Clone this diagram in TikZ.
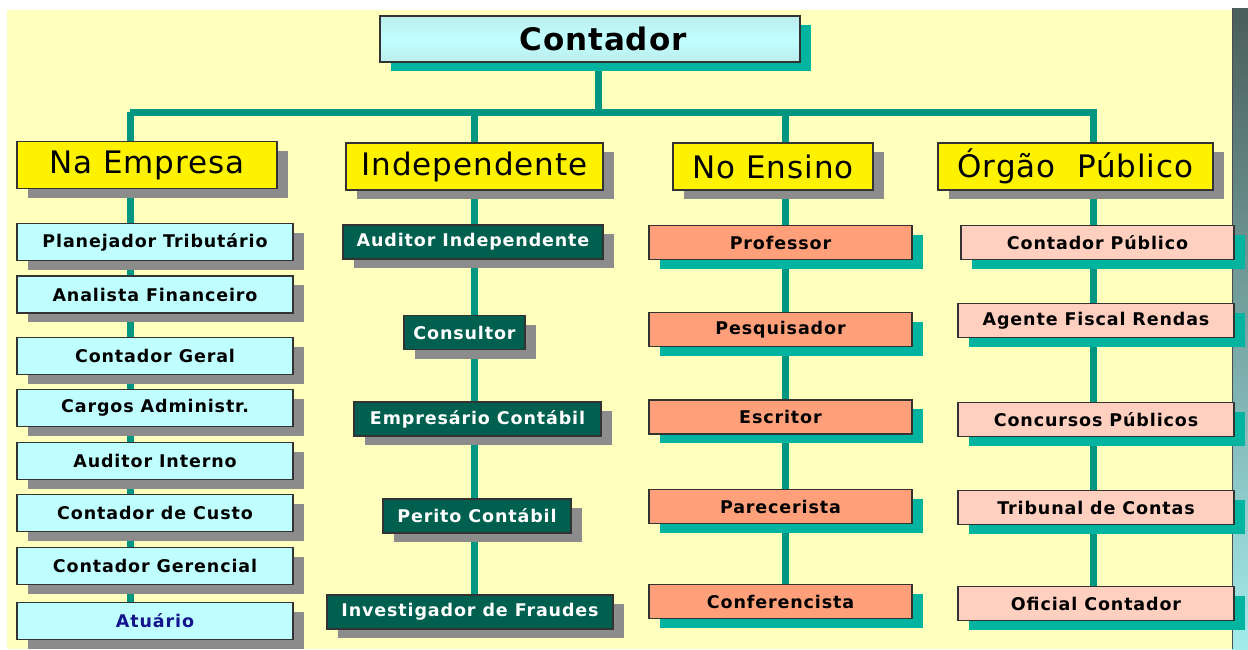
\documentclass[tikz,border=0pt]{standalone}
\usepackage{fontspec}
\setmainfont{DejaVu Sans}
\usetikzlibrary{shadows}
\definecolor{papel}{HTML}{FFFFBE}
\definecolor{linha}{HTML}{009682}
\definecolor{verde}{HTML}{00B4A0}
\definecolor{cinza}{HTML}{8C8C8C}
\definecolor{ciano}{HTML}{C0FFFF}
\definecolor{escuro}{HTML}{006050}
\definecolor{salmao}{HTML}{FFA07A}
\definecolor{rosa}{HTML}{FFD0C0}
\definecolor{azul}{HTML}{14148C}
\definecolor{faixa}{HTML}{4A5E5A}
\newfontfamily\caixafont[LetterSpace=5]{DejaVu Sans}
\newfontfamily\grupofont[LetterSpace=3]{DejaVu Sans}
\pgfdeclarelayer{fundo}
\pgfdeclarelayer{linhas}
\pgfsetlayers{fundo,linhas,main}
\tikzset{
  caixa/.style={draw=black!80, line width=1.2pt, inner sep=0pt, minimum height=34pt},
  sombra/.style={general shadow={fill=#1, shadow xshift=11pt, shadow yshift=-9pt}},
  topo/.style={caixa, sombra=verde, top color=ciano!75!teal!60, bottom color=ciano!75!teal!60, middle color=ciano,
    minimum width=420pt, minimum height=46pt, font=\grupofont\fontsize{31}{36}\selectfont\bfseries},
  grupo/.style={caixa, sombra=cinza, fill=yellow, minimum height=47pt, font=\grupofont\fontsize{31}{36}\selectfont},
  item/.style={caixa, font=\caixafont\fontsize{17.5}{20}\selectfont\bfseries},
  empresa/.style={item, sombra=cinza, fill=ciano, minimum width=276pt, minimum height=37pt},
  indep/.style={item, sombra=cinza, fill=escuro, text=white},
  ensino/.style={item, sombra=verde, fill=salmao, minimum width=263pt},
  publico/.style={item, sombra=verde, fill=rosa, minimum width=276pt},
  conn/.style={line width=7pt, color=linha}
}
\begin{document}
\begin{tikzpicture}[x=1pt,y=-1pt]
\useasboundingbox (0,0) rectangle (1248,649);
\begin{pgfonlayer}{fundo}
\fill[white] (0,0) rectangle (1248,649);
\fill[papel] (7,10) rectangle (1232,649);
\shade[top color=faixa, bottom color=ciano!85!teal] (1232,8) rectangle (1248,649);
\draw[black!70, line width=1pt] (1232,8) -- (1232,649);
\end{pgfonlayer}

\node[topo] (cont) at (590,39) {\hspace*{26pt}Contador};

\node[grupo, minimum width=260pt] (emp) at (147,165) {Na Empresa};
\node[grupo, minimum width=257pt] (ind) at (474.5,166.5) {Independente};
\node[grupo, minimum width=200pt] (ens) at (773,166.5) {No Ensino};
\node[grupo, minimum width=275pt] (org) at (1075.5,166.5) {Órgão\ \ Público};

\node[empresa] (plan) at (155,242) {Planejador Tributário};
\node[empresa] (anal) at (155,294.5) {Analista Financeiro};
\node[empresa] (ger) at (155,356) {Contador Geral};
\node[empresa] (carg) at (155,408) {Cargos Administr.};
\node[empresa] (audi) at (155,461) {Auditor Interno};
\node[empresa] (cust) at (155,513) {Contador de Custo};
\node[empresa] (gere) at (155,566) {Contador Gerencial};
\node[empresa, text=azul] (atu) at (155,621) {Atuário};

\node[indep, minimum width=260pt] (aui) at (473,242) {Auditor Independente};
\node[indep, minimum width=121pt] (cons) at (464.5,332.5) {Consultor};
\node[indep, minimum width=247pt] (empc) at (477.5,419) {Empresário Contábil};
\node[indep, minimum width=188pt] (per) at (477,516) {Perito Contábil};
\node[indep, minimum width=286pt] (inv) at (470,612) {Investigador de Fraudes};

\node[ensino] (prof) at (780.5,242.5) {Professor};
\node[ensino] (pesq) at (780.5,329.5) {Pesquisador};
\node[ensino] (escr) at (780.5,417) {Escritor};
\node[ensino] (parc) at (780.5,506.5) {Parecerista};
\node[ensino] (conf) at (780.5,601.5) {Conferencista};

\node[publico, minimum width=273pt] (cpub) at (1097.5,242.5) {Contador Público};
\node[publico] (agen) at (1096,320.5) {Agente Fiscal Rendas};
\node[publico] (conc) at (1096,419.5) {Concursos Públicos};
\node[publico] (trib) at (1096,507.5) {Tribunal de Contas};
\node[publico] (ofic) at (1096,603.5) {Oficial Contador};

\begin{pgfonlayer}{linhas}
\coordinate (hub) at (598,112);
\coordinate (c1) at (130,112);
\coordinate (c2) at (474,112);
\coordinate (c3) at (785,112);
\coordinate (c4) at (1093,112);
\draw[conn] (cont.south -| hub) -- (hub);
\draw[conn] (c1) -- ([xshift=4pt]c4);
\draw[conn] (c1) -- (c1 |- atu.north);
\draw[conn] (c2) -- (c2 |- inv.north);
\draw[conn] (c3) -- (c3 |- conf.north);
\draw[conn] (c4) -- (c4 |- ofic.north);
\end{pgfonlayer}
\end{tikzpicture}
\end{document}
